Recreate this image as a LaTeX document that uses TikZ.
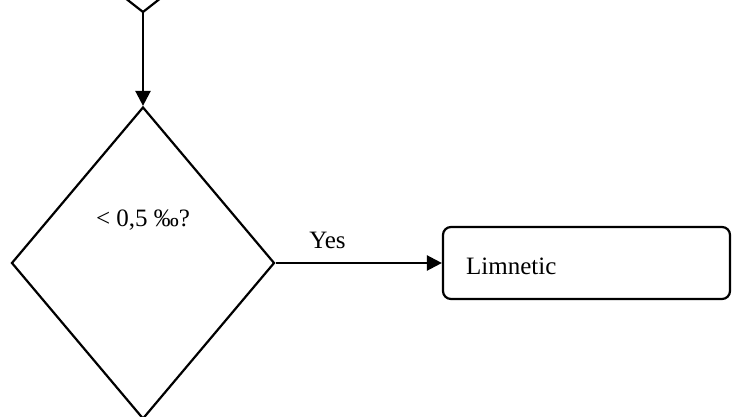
\documentclass[tikz,border=0pt]{standalone}
\usepackage{fontspec}
\setmainfont{Liberation Serif}
\usetikzlibrary{shapes.geometric,arrows.meta}
\begin{document}
\begin{tikzpicture}[x=1pt,y=-1pt,
  every node/.style={font=\fontsize{25}{29}\selectfont},
  outline/.style={draw=black,line width=2.2pt,line join=miter},
  decision/.style={outline,diamond,inner sep=0pt,minimum width=263pt,minimum height=312pt},
  stepbox/.style={outline,rectangle,rounded corners=8pt,minimum width=287pt,minimum height=72pt,inner sep=0pt},
  flow/.style={line width=2.4pt,-{Triangle[length=15pt,width=15pt]}},
  label/.style={inner sep=0pt,anchor=base}]
  \useasboundingbox (0,0) rectangle (732,417);
  % lower tip of the preceding decision
  \coordinate (prevL) at (97,-24);
  \coordinate (prevR) at (189,-24);
  \coordinate (prevTip) at (143,12);
  \draw[outline] (prevL) -- (prevTip) -- (prevR);
  % salinity decision
  \node[decision] (dec) at (143,263) {};
  \node[label] (q) at (143,227) {< 0,5 ‰?};
  % outcome box
  \node[stepbox] (lim) at (586.5,263) {};
  \node[label,anchor=base west] (limtxt) at (466,275) {Limnetic};
  % connectors
  \draw[flow] (prevTip) -- (dec.north);
  \draw[flow] (dec.east) -- (lim.west);
  \node[label] (yes) at (327.5,249) {Yes};
\end{tikzpicture}
\end{document}
